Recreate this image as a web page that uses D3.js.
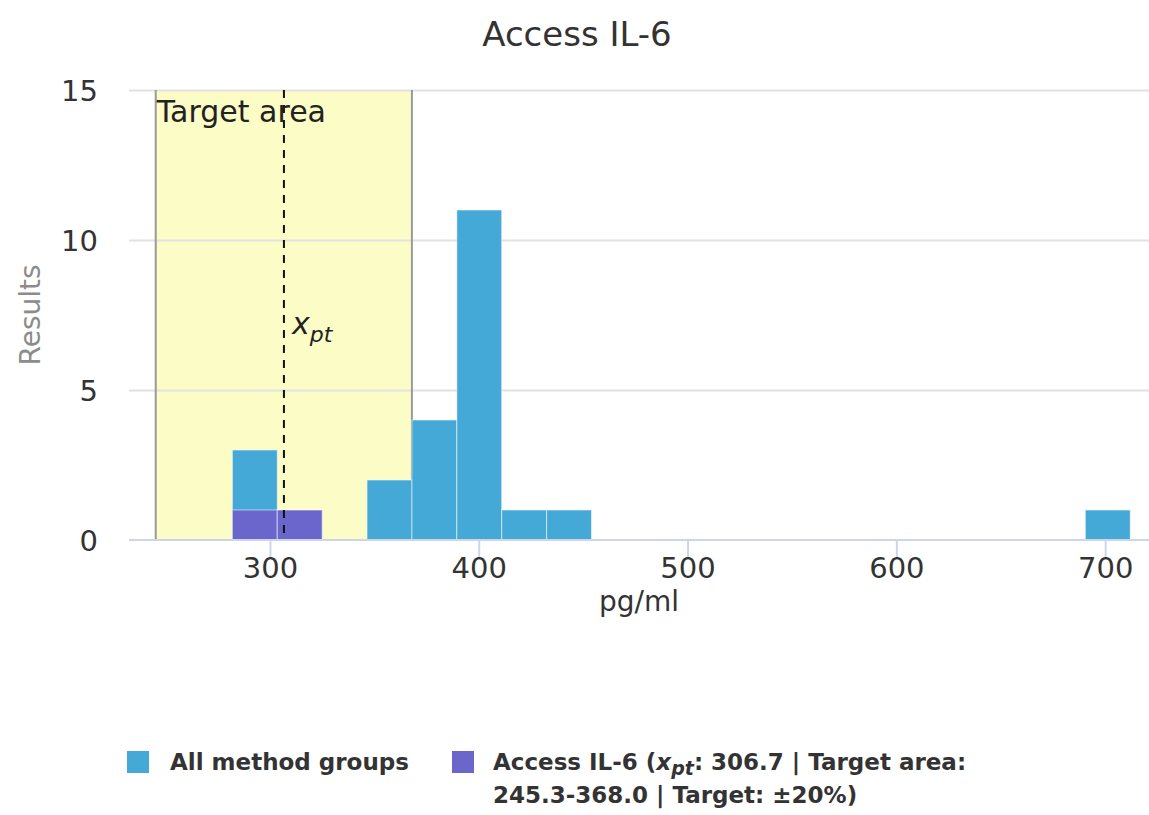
<!DOCTYPE html>
<html>
<head>
<meta charset="utf-8">
<script src="https://cdn.jsdelivr.net/npm/d3@7"></script>
<style>
  html, body { margin: 0; padding: 0; background: #ffffff; }
  svg { display: block; font-family: "DejaVu Sans", Verdana, sans-serif; }
</style>
</head>
<body>
<svg id="chart" width="1149" height="815"></svg>
<script>
// ---- data ----
const binWidth = 21.5;
const allBinStarts = [282, 303.5, 346.5, 368, 389.5, 411, 432.5, 690.5];
const allCounts    = [3, 1, 2, 4, 11, 1, 1, 1];
const groupBinStarts = [282, 303.5];
const groupCounts    = [1, 1];
const xTicks = [300, 400, 500, 600, 700];
const yTicks = [0, 5, 10, 15];
const xpt = 306.7;
const targetLow = 245.3;
const targetHigh = 368.0;
const titleText = "Access IL-6";
const seriesNames = ["All method groups", "Access IL-6"];

// ---- layout ----
const svg = d3.select("#chart");
const plot = { left: 129, right: 1149, top: 90, bottom: 540 };
const x = d3.scaleLinear().domain([232.5, 721]).range([plot.left, plot.right]);
const y = d3.scaleLinear().domain([0, 15]).range([plot.bottom, plot.top]);
const colBlue = "#44a9d6", colPurple = "#6a66cc";

svg.append("rect").attr("width", 1149).attr("height", 815).attr("fill", "#ffffff");

// title
svg.append("text").attr("x", 577).attr("y", 46).attr("text-anchor", "middle")
  .attr("font-size", 34).attr("fill", "#333333").text(titleText);

// target band
svg.append("rect")
  .attr("x", x(targetLow)).attr("y", plot.top)
  .attr("width", x(targetHigh) - x(targetLow)).attr("height", plot.bottom - plot.top)
  .attr("fill", "#fbfcc6");

// gridlines
const yAxis = d3.axisLeft(y).tickValues(yTicks).tickSize(-(plot.right - plot.left)).tickPadding(31);
const gy = svg.append("g").attr("transform", `translate(${plot.left},0)`).call(yAxis);
gy.select(".domain").remove();
gy.selectAll(".tick line").attr("stroke", "#e2e2e2").attr("stroke-width", 2)
  .filter(d => d === 0).remove();
gy.selectAll(".tick text").attr("font-size", 29).attr("fill", "#333333")
  .attr("font-family", "DejaVu Sans").attr("dy", "0.37em");

// band edges
[targetLow, targetHigh].forEach(v => {
  svg.append("line").attr("x1", x(v)).attr("x2", x(v))
    .attr("y1", plot.top).attr("y2", plot.bottom)
    .attr("stroke", "#9a9a9a").attr("stroke-width", 2);
});

// bars: all method groups
svg.append("g").selectAll("rect").data(allBinStarts).join("rect")
  .attr("x", d => x(d)).attr("width", d => x(d + binWidth) - x(d))
  .attr("y", (d, i) => y(allCounts[i]))
  .attr("height", (d, i) => y(0) - y(allCounts[i]))
  .attr("fill", colBlue).attr("stroke", "#ffffff").attr("stroke-opacity", 0.55).attr("stroke-width", 1);

// bars: group
svg.append("g").selectAll("rect").data(groupBinStarts).join("rect")
  .attr("x", d => x(d)).attr("width", d => x(d + binWidth) - x(d))
  .attr("y", (d, i) => y(groupCounts[i]))
  .attr("height", (d, i) => y(0) - y(groupCounts[i]))
  .attr("fill", colPurple).attr("stroke", "#ffffff").attr("stroke-opacity", 0.55).attr("stroke-width", 1);

// x axis
const xAxis = d3.axisBottom(x).tickValues(xTicks).tickSize(17).tickPadding(8).tickFormat(d3.format("d"));
const gx = svg.append("g").attr("transform", `translate(0,${plot.bottom})`).call(xAxis);
gx.select(".domain").attr("stroke", "#ccd6eb").attr("stroke-width", 2)
  .attr("d", `M${plot.left},0H${plot.right}`);
gx.selectAll(".tick line").attr("stroke", "#ccd6eb").attr("stroke-width", 2);
gx.selectAll(".tick text").attr("font-size", 29).attr("fill", "#333333")
  .attr("font-family", "DejaVu Sans").attr("dy", "0.45em");

// xpt dashed line
svg.append("line").attr("x1", x(xpt)).attr("x2", x(xpt))
  .attr("y1", plot.top).attr("y2", plot.bottom)
  .attr("stroke", "#111111").attr("stroke-width", 2).attr("stroke-dasharray", "8,7");

// labels
svg.append("text").attr("x", x(targetLow) + 1).attr("y", 122).attr("font-size", 30)
  .attr("fill", "#222222").text("Target area");
const xl = svg.append("text").attr("x", x(xpt) + 8).attr("y", 334).attr("fill", "#222222");
xl.append("tspan").attr("font-style", "italic").attr("font-size", 30).text("x");
xl.append("tspan").attr("font-style", "italic").attr("font-size", 22).attr("dy", 8).text("pt");

// axis titles
svg.append("text").attr("transform", `translate(40,${(plot.top + plot.bottom) / 2}) rotate(-90)`)
  .attr("text-anchor", "middle").attr("font-size", 28).attr("fill", "#8c8c8c").text("Results");
svg.append("text").attr("x", (plot.left + plot.right) / 2).attr("y", 611)
  .attr("text-anchor", "middle").attr("font-size", 28).attr("fill", "#333333").text("pg/ml");

// legend
const lg = svg.append("g").attr("font-weight", "bold").attr("font-size", 23).attr("fill", "#333333");
lg.append("rect").attr("x", 127).attr("y", 751).attr("width", 22).attr("height", 22).attr("fill", colBlue);
lg.append("text").attr("x", 170).attr("y", 770).text(seriesNames[0]);
lg.append("rect").attr("x", 452).attr("y", 751).attr("width", 22).attr("height", 22).attr("fill", colPurple);
const t2 = lg.append("text").attr("x", 493).attr("y", 770);
t2.append("tspan").text(seriesNames[1] + " (");
t2.append("tspan").attr("font-style", "italic").text("x");
t2.append("tspan").attr("font-style", "italic").attr("font-size", 19).attr("dy", 5).text("pt");
t2.append("tspan").attr("dy", -5).text(`: ${xpt.toFixed(1)} | Target area:`);
lg.append("text").attr("x", 493).attr("y", 803)
  .text(`${targetLow.toFixed(1)}-${targetHigh.toFixed(1)} | Target: \u00b120%)`);
</script>
</body>
</html>
